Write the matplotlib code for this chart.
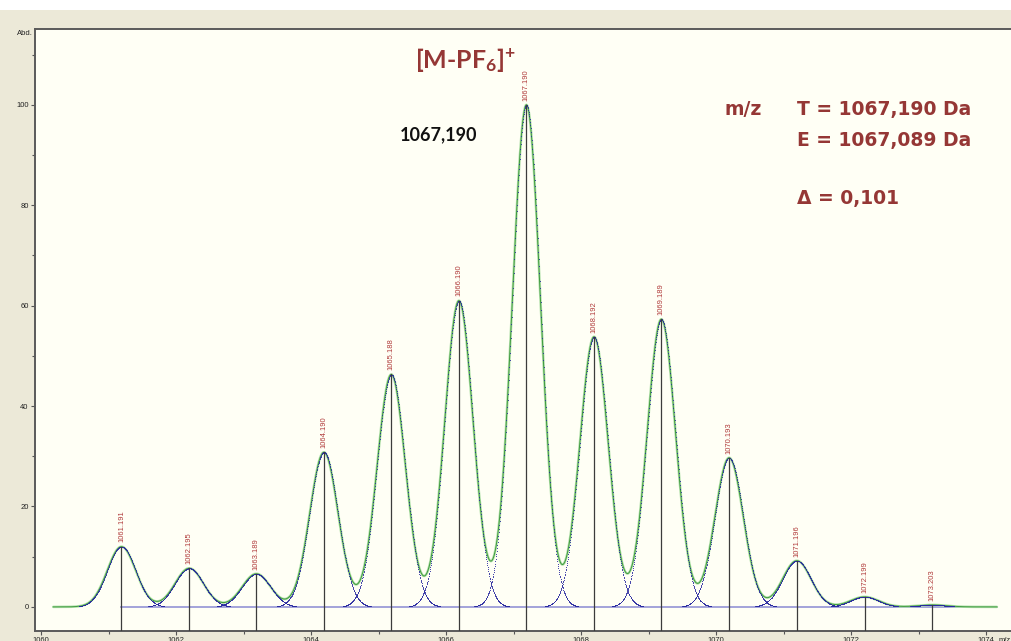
import numpy as np
import matplotlib
matplotlib.use("Agg")
import matplotlib.pyplot as plt
from matplotlib.patches import Rectangle
from matplotlib.ticker import MultipleLocator
import matplotlib.transforms as mtransforms

# Peak list (m/z, relative abundance)
peak_mz = [1061.191, 1062.195, 1063.189, 1064.190, 1065.188, 1066.190, 1067.190,
           1068.192, 1069.189, 1070.193, 1071.196, 1072.199, 1073.203]
peak_abd = [12.0, 7.7, 6.6, 30.8, 46.3, 61.0, 100.0,
            53.8, 57.3, 29.7, 9.2, 2.0, 0.4]
peak_labels = ["1061.191", "1062.195", "1063.189", "1064.190", "1065.188",
               "1066.190", "1067.190", "1068.192", "1069.189", "1070.193",
               "1071.196", "1072.199", "1073.203"]
peak_sigma = 0.21          # profile width (m/z units)
mz_range = (1060.18, 1074.16)

x_major = [1060, 1062, 1064, 1066, 1068, 1070, 1072, 1074]
y_major = [0, 20, 40, 60, 80, 100]

RED = "#953735"
LBL = "#b03a3a"

plt.rcParams["mathtext.fontset"] = "custom"
plt.rcParams["mathtext.rm"] = "Lato:bold"
plt.rcParams["mathtext.it"] = "Lato:bold"
plt.rcParams["mathtext.bf"] = "Lato:bold"

fig = plt.figure(figsize=(10.11, 6.41), dpi=100)
fig.patch.set_facecolor("#ECE9D8")
fig.add_artist(Rectangle((0, 1 - 10 / 641), 1, 10 / 641, transform=fig.transFigure,
                         facecolor="white", edgecolor="none"))

ax = fig.add_axes([35 / 1011, 10 / 641, 991.6 / 1011, 602 / 641])
ax.set_facecolor("#FFFFF5")
ax.set_xlim(1059.91, 1074.6)
ax.set_ylim(-4.8, 115.1)

# ── Baseline of the individual profiles ──
ax.plot([peak_mz[0], mz_range[1]], [0, 0], color="#9c9cd8", lw=1.3, zorder=1)

# ── Envelope ──
xe = np.linspace(*mz_range, 4000)
env = np.zeros_like(xe)
for mz, a in zip(peak_mz, peak_abd):
    env += a * np.exp(-0.5 * ((xe - mz) / peak_sigma) ** 2)
ax.plot(xe, env, color="#b2e0aa", lw=1.8, zorder=2, solid_capstyle="round")
ax.plot(xe, env, color="#3f9a3f", lw=0.7, zorder=3)

# ── Individual profiles (sampled, dotted where steep) ──
for mz, a in zip(peak_mz, peak_abd):
    xd = np.arange(max(mz - 1.0, mz_range[0]), min(mz + 1.0, mz_range[1]), 0.005)
    yd = a * np.exp(-0.5 * ((xd - mz) / peak_sigma) ** 2)
    keep = yd > 0.12
    ax.plot(xd[keep], yd[keep], ls="none", marker="s", ms=0.7, mew=0,
            color="#2a2aa0", alpha=0.65, zorder=4)

# ── Sticks + labels ──
for mz, a, lab in zip(peak_mz, peak_abd, peak_labels):
    ax.plot([mz, mz], [-4.8, a], color="#3c3c3c", lw=0.9, zorder=5)
    ax.annotate(lab, (mz, a), xytext=(0, 3), textcoords="offset points",
                rotation=90, ha="center", va="bottom", fontsize=5.5,
                family="Liberation Sans", color=LBL, zorder=6)

# ── Axes styling ──
for side in ("top", "left", "bottom"):
    ax.spines[side].set_color("#5a5a5a")
    ax.spines[side].set_linewidth(1.4)
ax.spines["right"].set_visible(False)

ax.set_xticks(x_major)
ax.set_yticks(y_major)
ax.xaxis.set_minor_locator(MultipleLocator(1))
ax.yaxis.set_minor_locator(MultipleLocator(10))
ax.tick_params(axis="both", which="both", direction="out", color="#555",
               labelsize=5.5, labelcolor="#222", width=0.8)
ax.tick_params(axis="both", which="major", length=3, pad=1.5)
ax.tick_params(axis="both", which="minor", length=2)
for t in ax.get_xticklabels() + ax.get_yticklabels():
    t.set_family("Liberation Sans")

trans = mtransforms.blended_transform_factory(ax.transAxes, ax.transData)
ax.text(-0.002, 114.3, "Abd.", transform=trans, ha="right", va="center",
        fontsize=5.5, family="Liberation Sans", color="#222")
ax.annotate("m/z", (1074.18, -4.8), xytext=(0, -4.5), textcoords="offset points",
            ha="left", va="top", fontsize=5.5, family="Liberation Sans", color="#222",
            annotation_clip=False)

# ── Annotations ──
ax.text(1065.54, 109.0, r"[M-PF$_{6}$]$^{+}$", fontsize=18, family="Lato",
        fontweight="bold", color=RED, ha="left", va="center")
ax.text(1065.32, 94.0, "1067,190", fontsize=13, family="Lato",
        fontweight="bold", color="#111", ha="left", va="center")
ax.text(1070.12, 99.0, "m/z", fontsize=13.5, family="DejaVu Sans",
        fontweight="bold", color=RED, ha="left", va="center")
ax.text(1071.2, 99.0, "T = 1067,190 Da", fontsize=13.5, family="DejaVu Sans",
        fontweight="bold", color=RED, ha="left", va="center")
ax.text(1071.2, 92.8, "E = 1067,089 Da", fontsize=13.5, family="DejaVu Sans",
        fontweight="bold", color=RED, ha="left", va="center")
ax.text(1071.2, 81.3, "\u0394 = 0,101", fontsize=13.5, family="DejaVu Sans",
        fontweight="bold", color=RED, ha="left", va="center")

fig.savefig("out.png", dpi=100, facecolor=fig.get_facecolor())
